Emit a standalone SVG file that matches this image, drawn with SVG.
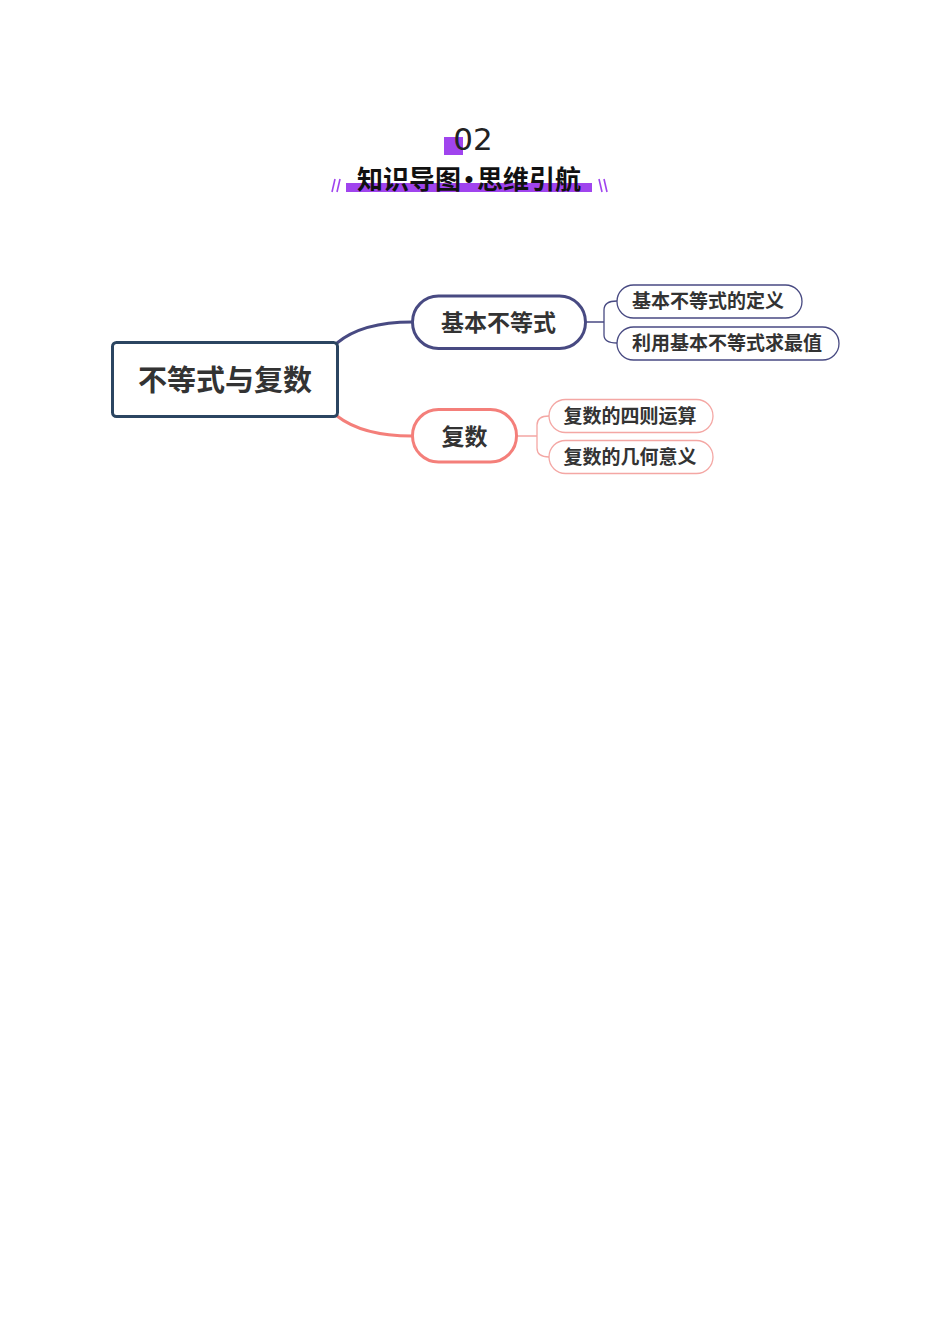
<svg xmlns="http://www.w3.org/2000/svg" width="950" height="1344" viewBox="0 0 950 1344">
<style>
.t{font-family:"Noto Sans CJK SC","Liberation Sans",sans-serif;font-weight:bold;fill:#333;text-anchor:middle;dominant-baseline:central}
.h{font-family:"Noto Sans CJK SC",sans-serif;font-weight:bold;font-size:26px;fill:#111;dominant-baseline:central}
.conn{fill:none}
</style>
<rect width="950" height="1344" fill="#fff"/>
<g id="title">
<rect x="444" y="137" width="19" height="18" fill="#a044ee"/>
<text x="473" y="139" font-family="DejaVu Sans, sans-serif" font-size="31" fill="#222" text-anchor="middle" dominant-baseline="central">02</text>
<rect x="346" y="183" width="246" height="9" fill="#a044ee"/>
<text class="h" x="461" y="177" text-anchor="end">知识导图</text>
<text x="469" y="178" font-family="Liberation Sans, sans-serif" font-weight="bold" font-size="24" fill="#111" text-anchor="middle" dominant-baseline="central">•</text>
<text class="h" x="477" y="177" text-anchor="start">思维引航</text>
<g stroke="#a044ee" stroke-width="1.6">
<line x1="332" y1="192" x2="335" y2="179"/><line x1="337" y1="192" x2="340" y2="179"/>
<line x1="599" y1="179" x2="602" y2="192"/><line x1="604" y1="179" x2="607" y2="192"/>
</g>
</g>
<g id="connectors" class="conn">
<path d="M337,343 C355,328 380,322 412,322" stroke="#484a82" stroke-width="3"/>
<path d="M337,416 C355,430 380,436 412,436" stroke="#f47f7a" stroke-width="3"/>
<path d="M586,322 H604 M617,301 C608,301 604,304 604,310 V335 C604,340 608,343 617,343" stroke="#484a82" stroke-width="1.3"/>
<path d="M517,436 H537 M549,416 C541,416 537,419 537,425 V448 C537,454 541,457 549,457" stroke="#f4a7a4" stroke-width="1.3"/>
</g>
<g id="root">
<rect x="112.5" y="342.5" width="225" height="74" rx="4" fill="#fff" stroke="#2b4561" stroke-width="3"/>
<text class="t" x="225" y="378" font-size="29">不等式与复数</text>
</g>
<g id="n1">
<rect x="412.5" y="296" width="173" height="52.5" rx="26" fill="#fff" stroke="#484a82" stroke-width="3"/>
<text class="t" x="498.5" y="320.5" font-size="23">基本不等式</text>
</g>
<g id="n2">
<rect x="412.5" y="409.5" width="104" height="52.5" rx="26" fill="#fff" stroke="#f47f7a" stroke-width="3"/>
<text class="t" x="464.5" y="434.5" font-size="23">复数</text>
</g>
<g id="n1a">
<rect x="617" y="285" width="185" height="33" rx="16.5" fill="#fff" stroke="#484a82" stroke-width="1.3"/>
<text class="t" x="708" y="299.5" font-size="19">基本不等式的定义</text>
</g>
<g id="n1b">
<rect x="617" y="327" width="222" height="33" rx="16.5" fill="#fff" stroke="#484a82" stroke-width="1.3"/>
<text class="t" x="727" y="341.5" font-size="19">利用基本不等式求最值</text>
</g>
<g id="n2a">
<rect x="549" y="399.5" width="164" height="33" rx="16.5" fill="#fff" stroke="#f4a7a4" stroke-width="1.3"/>
<text class="t" x="630" y="414" font-size="19">复数的四则运算</text>
</g>
<g id="n2b">
<rect x="549" y="440.5" width="164" height="33" rx="16.5" fill="#fff" stroke="#f4a7a4" stroke-width="1.3"/>
<text class="t" x="630" y="455.5" font-size="19">复数的几何意义</text>
</g>
</svg>
